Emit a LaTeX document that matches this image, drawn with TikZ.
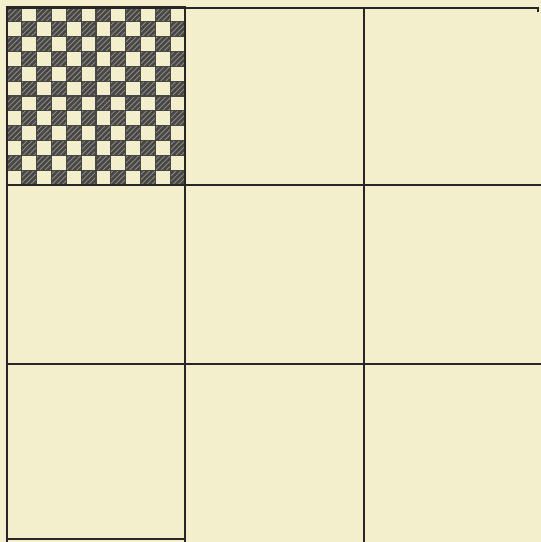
\documentclass[tikz,border=0pt]{standalone}
\usetikzlibrary{patterns}
\definecolor{paper}{RGB}{243,238,203}
\definecolor{ink}{RGB}{40,38,36}
\definecolor{hatch}{RGB}{150,148,140}

\begin{document}
\begin{tikzpicture}[x=0.02cm, y=-0.02cm]
% Paper
\fill[paper] (0,0) rectangle (541,542);
\useasboundingbox (0,0) rectangle (541,542);

% Checkerboard (12 x 12) in the top left cell
\foreach \i in {0,...,11} {
  \foreach \j in {0,...,11} {
    \pgfmathtruncatemacro{\parity}{mod(\i+\j,2)}
    \ifnum\parity=0
      \fill[ink!85] (7+\i*14.83,7+\j*14.83) rectangle ++(14.83,14.83);
      \fill[pattern=north east lines, pattern color=hatch] (7+\i*14.83,7+\j*14.83) rectangle ++(14.83,14.83);
    \fi
  }
}
\draw[ink!85, line width=0.6pt, step=14.83*0.02cm, shift={(7,7)}] (0,0) grid (177.96,177.96);
\draw[ink, line width=1.6pt] (7,7) rectangle (185,185);

% Grid lines
\draw[ink, line width=1.6pt] (538,12) -- (538,8) -- (7,8) -- (7,542);
\draw[ink, line width=1.6pt] (185,8) -- (185,542);
\draw[ink, line width=1.6pt] (364,8) -- (364,542);
\draw[ink, line width=1.6pt] (7,185) -- (541,185);
\draw[ink, line width=1.6pt] (7,364) -- (541,364);
\draw[ink, line width=1.6pt] (7,539) -- (185,539);
\end{tikzpicture}
\end{document}
